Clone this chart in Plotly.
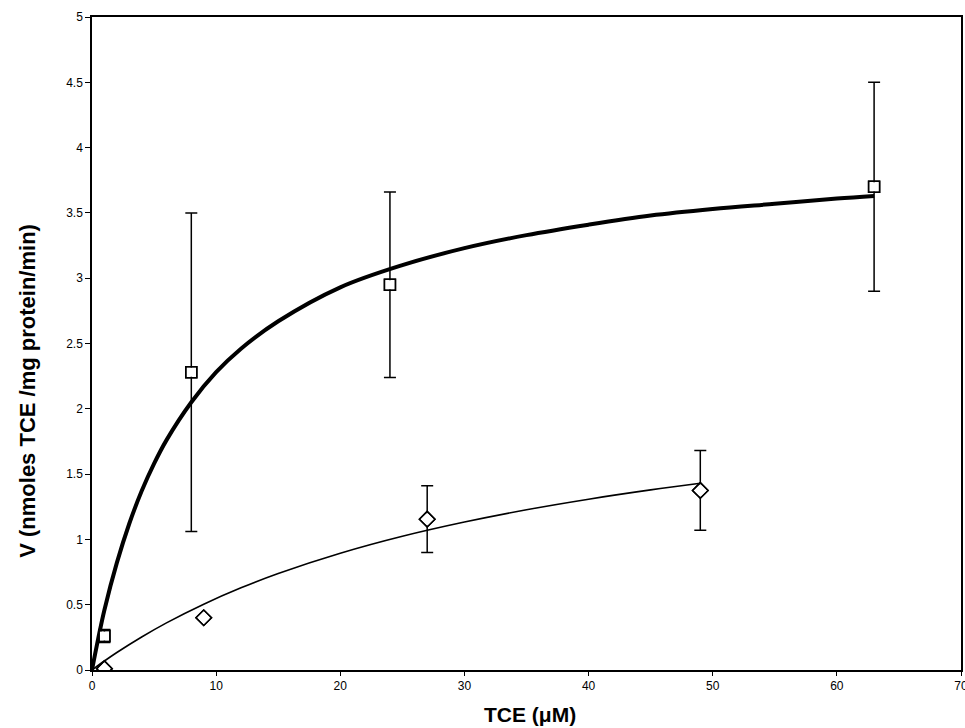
import plotly.graph_objects as go

# ---- data ----
sq_x = [1, 8, 24, 63]
sq_y = [0.26, 2.28, 2.95, 3.70]
sq_err = [0.05, 1.22, 0.71, 0.80]

dm_x = [1, 9, 27, 49]
dm_y = [0.01, 0.40, 1.155, 1.375]
dm_err = [None, None, 0.255, 0.305]

fit1_x = [0, 0.5, 1, 2, 3, 4, 5, 6, 8, 10, 12, 15, 20, 25, 30, 35, 40, 45, 50, 55, 60, 63]
fit1_y = [0, 0.24, 0.46, 0.82, 1.12, 1.37, 1.58, 1.76, 2.05, 2.28, 2.46, 2.67, 2.93, 3.10,
          3.23, 3.33, 3.41, 3.48, 3.53, 3.57, 3.61, 3.63]

fit2_x = [0, 1, 2, 4, 6, 9, 12, 15, 20, 25, 30, 35, 40, 45, 49]
fit2_y = [0, 0.069, 0.134, 0.253, 0.361, 0.504, 0.629, 0.739, 0.894, 1.024, 1.133, 1.227,
          1.308, 1.379, 1.43]

x_ticks = [0, 10, 20, 30, 40, 50, 60, 70]
y_ticks = [0, 0.5, 1, 1.5, 2, 2.5, 3, 3.5, 4, 4.5, 5]
y_tick_text = ["0", "0.5", "1", "1.5", "2", "2.5", "3", "3.5", "4", "4.5", "5"]

x_title = "TCE (\u03bcM)"
y_title = "V (nmoles TCE /mg protein/min)"

FONT = "Liberation Sans, Arial, sans-serif"

fig = go.Figure()

fig.add_trace(go.Scatter(x=fit1_x, y=fit1_y, mode="lines",
                         line=dict(color="black", width=4, shape="spline"),
                         hoverinfo="skip", showlegend=False))
fig.add_trace(go.Scatter(x=fit2_x, y=fit2_y, mode="lines",
                         line=dict(color="black", width=1.6, shape="spline"),
                         hoverinfo="skip", showlegend=False))

fig.add_trace(go.Scatter(
    x=sq_x, y=sq_y, mode="markers",
    marker=dict(symbol="square-open", size=11, color="black", line=dict(width=1.5, color="black")),
    error_y=dict(type="data", array=sq_err, visible=True, color="black", thickness=1.5, width=6),
    showlegend=False))
fig.add_trace(go.Scatter(
    x=sq_x, y=sq_y, mode="markers",
    marker=dict(symbol="square", size=9, color="white"),
    showlegend=False, hoverinfo="skip"))
fig.add_trace(go.Scatter(
    x=sq_x, y=sq_y, mode="markers",
    marker=dict(symbol="square-open", size=11, color="black", line=dict(width=1.5, color="black")),
    showlegend=False, hoverinfo="skip"))

fig.add_trace(go.Scatter(
    x=dm_x, y=dm_y, mode="markers",
    marker=dict(symbol="diamond-open", size=12, color="black", line=dict(width=1.5, color="black")),
    error_y=dict(type="data", array=[e if e is not None else float("nan") for e in dm_err],
                 visible=True, color="black", thickness=1.5, width=6),
    showlegend=False))
fig.add_trace(go.Scatter(
    x=dm_x, y=dm_y, mode="markers",
    marker=dict(symbol="diamond", size=10, color="white"),
    showlegend=False, hoverinfo="skip"))
fig.add_trace(go.Scatter(
    x=dm_x, y=dm_y, mode="markers",
    marker=dict(symbol="diamond-open", size=12, color="black", line=dict(width=1.5, color="black")),
    showlegend=False, hoverinfo="skip"))

fig.update_layout(
    width=965, height=728,
    margin=dict(l=92, r=4, t=17, b=58, autoexpand=False),
    paper_bgcolor="white", plot_bgcolor="white",
    font=dict(family=FONT, color="black", size=12),
    xaxis=dict(range=[0, 70], tickvals=x_ticks, ticks="outside", ticklen=4, tickwidth=1,
               tickcolor="black", showline=True, linecolor="black", linewidth=1.5,
               mirror=True, showgrid=False, zeroline=False, ticklabeloverflow="allow",
               automargin=False,
               tickfont=dict(family=FONT, size=12, color="black")),
    yaxis=dict(range=[0, 5], tickvals=y_ticks, ticktext=y_tick_text, ticks="outside",
               ticklen=5, tickwidth=1, tickcolor="black", showline=True, linecolor="black",
               linewidth=1.5, mirror=True, showgrid=False, zeroline=False, automargin=False,
               tickfont=dict(family=FONT, size=12, color="black")),
    annotations=[
        dict(text="<b>" + x_title + "</b>", xref="paper", yref="paper", x=0.504, y=-0.068,
             xanchor="center", yanchor="middle", showarrow=False,
             font=dict(family=FONT, size=21, color="black")),
        dict(text="<b>" + y_title + "</b>", xref="paper", yref="paper", x=-0.0745, y=0.428,
             xanchor="center", yanchor="middle", showarrow=False, textangle=-90,
             font=dict(family=FONT, size=22, color="black")),
    ],
)

fig.write_html("out.html", config={"displayModeBar": False},
               post_script="document.body.style.margin='0px';document.body.style.overflow='hidden';")
